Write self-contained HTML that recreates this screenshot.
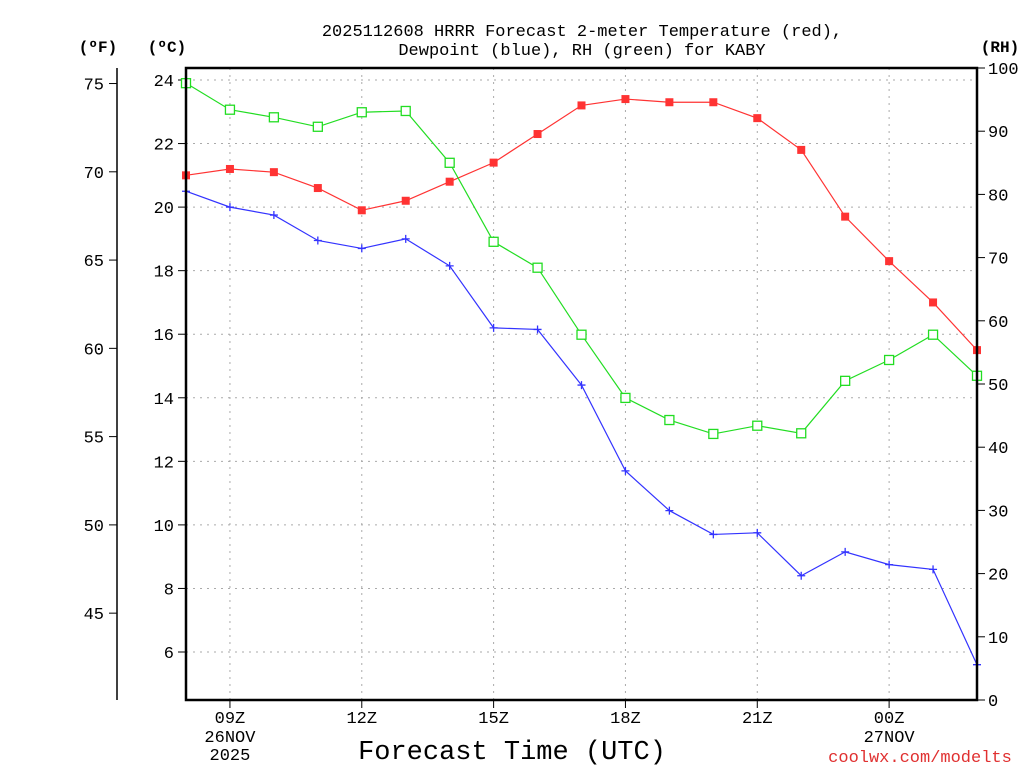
<!DOCTYPE html>
<html><head><meta charset="utf-8"><style>
body{margin:0;background:#fff;}
svg text{font-family:"Liberation Mono","DejaVu Sans Mono",monospace;}
</style></head><body>
<svg id="c" width="1024" height="768" xmlns="http://www.w3.org/2000/svg">
<text x="582" y="36" font-size="17" text-anchor="middle">2025112608 HRRR Forecast 2-meter Temperature (red),</text>
<text x="582" y="55" font-size="17" text-anchor="middle">Dewpoint (blue), RH (green) for KABY</text>
<text x="98" y="52" font-size="16" font-weight="bold" text-anchor="middle">(ºF)</text>
<text x="167" y="52" font-size="16" font-weight="bold" text-anchor="middle">(ºC)</text>
<text x="1000" y="52" font-size="16" font-weight="bold" text-anchor="middle">(RH)</text>
<text x="512" y="759" font-size="27" text-anchor="middle">Forecast Time (UTC)</text>
<text x="920" y="762" font-size="17" fill="#e03030" text-anchor="middle">coolwx.com/modelts</text>
<g id="g"></g>
</svg>
<script>
const hours=[8,9,10,11,12,13,14,15,16,17,18,19,20,21,22,23,24,25,26];
const tempC=[21.0,21.2,21.1,20.6,19.9,20.2,20.8,21.4,22.3,23.2,23.4,23.3,23.3,22.8,21.8,19.7,18.3,17.0,15.5];
const dewC=[20.5,20.0,19.75,18.95,18.7,19.0,18.15,16.2,16.15,14.4,11.7,10.45,9.7,9.75,8.4,9.15,8.75,8.6,5.6];
const rh=[97.6,93.4,92.2,90.7,93.0,93.2,85.0,72.5,68.4,57.8,47.8,44.3,42.1,43.4,42.2,50.5,53.8,57.8,51.3];
const cTicks=[6,8,10,12,14,16,18,20,22,24];
const fTicks=[45,50,55,60,65,70,75];
const rhTicks=[0,10,20,30,40,50,60,70,80,90,100];
const xTickHours=[9,12,15,18,21,24];
const xTickLabels=["09Z","12Z","15Z","18Z","21Z","00Z"];
const xSub={9:["26NOV","2025"],24:["27NOV"]};
const L=186,R=977,T=68,B=700;
const X=h=>L+(h-8)*(R-L)/18;
const YC=c=>652-(c-6)*(652-80)/18;
const YF=f=>YC((f-32)*5/9);
const YR=r=>B-r*(B-T)/100;
const g=document.getElementById('g');
const NS="http://www.w3.org/2000/svg";
function el(t,a,txt){const e=document.createElementNS(NS,t);for(const k in a)e.setAttribute(k,a[k]);if(txt!==undefined)e.textContent=txt;g.appendChild(e);return e;}
cTicks.forEach(c=>{
 const y=YC(c);
 const gl=el('line',{x1:L,x2:R,y1:y,y2:y,stroke:'#aaa','stroke-dasharray':'2,5'});
 
 
 el('line',{x1:L-8,x2:L,y1:y,y2:y,stroke:'#000'});
 const t=el('text',{x:L-12,y:y+6,'font-size':17,'text-anchor':'end'},c);
 
 
});
xTickHours.forEach((h,i)=>{
 const x=X(h);
 const gl=el('line',{x1:x,x2:x,y1:T,y2:B,stroke:'#aaa','stroke-dasharray':'2,5'});
 
 
 el('line',{x1:x,x2:x,y1:B,y2:B+8,stroke:'#000'});
 const t=el('text',{x:x,y:723,'font-size':17,'text-anchor':'middle'},xTickLabels[i]);
 
 
 (xSub[h]||[]).forEach((s,j)=>{const u=el('text',{x:x,y:742+j*18,'font-size':17,'text-anchor':'middle'},s);
 
 });
});
el('line',{x1:117,x2:117,y1:T,y2:B,stroke:'#000','stroke-width':1.5});
fTicks.forEach(f=>{
 const y=YF(f);
 el('line',{x1:109,x2:117,y1:y,y2:y,stroke:'#000'});
 const t=el('text',{x:104,y:y+6,'font-size':17,'text-anchor':'end'},f);
 
 
});
rhTicks.forEach(r=>{
 const y=YR(r);
 el('line',{x1:R,x2:R+8,y1:y,y2:y,stroke:'#000'});
 const t=el('text',{x:R+11,y:y+6,'font-size':17,'text-anchor':'start'},r);
 
 
});
function series(vals,yf,color,name,marker){
 const pts=vals.map((v,i)=>[X(hours[i]),yf(v)]);
 const p=el('polyline',{points:pts.map(q=>q.join(',')).join(' '),fill:'none',stroke:color,'stroke-width':1.2});
 
 
 pts.forEach(([x,y])=>{
  let m;
  if(marker==='fill') m=el('rect',{x:x-4,y:y-4,width:8,height:8,fill:color});
  else if(marker==='open') m=el('rect',{x:x-4.5,y:y-4.5,width:9,height:9,fill:'#fff',stroke:color,'stroke-width':1.3});
  else m=el('path',{d:`M${x-4},${y}H${x+4}M${x},${y-4}V${y+4}`,stroke:color,'stroke-width':1.3});
  
  
 });
}
series(tempC,YC,'#ff3333','temperature','fill');
series(dewC,YC,'#3333ff','dewpoint','plus');
series(rh,YR,'#22dd22','rh','open');
const f=el('rect',{x:L,y:T,width:R-L,height:B-T,fill:'none',stroke:'#000','stroke-width':2.5});


</script>
</body></html>
